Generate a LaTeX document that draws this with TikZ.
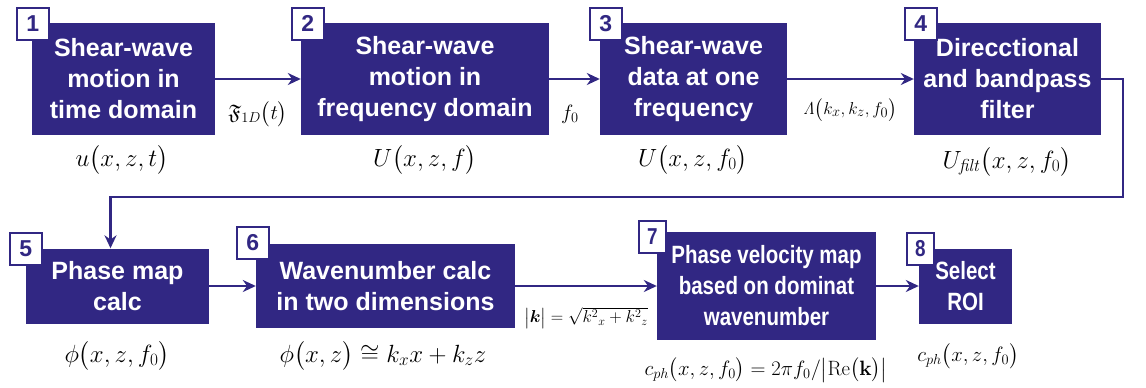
\documentclass[tikz,border=0pt]{standalone}
\usepackage{amsmath,amssymb}
\usepackage[no-math]{fontspec}
\setmainfont{Liberation Sans}
\newfontfamily\narrowsf[FakeStretch=0.82]{Liberation Sans}
\usetikzlibrary{arrows.meta}
\definecolor{flowblue}{HTML}{312783}

\begin{document}
\begin{tikzpicture}[x=1pt, y=-1pt,
  >={Stealth[length=13pt, width=12pt]},
  stepbox/.style={fill=flowblue, text=white, align=center, inner sep=0pt,
    font=\fontsize{25}{31}\selectfont\bfseries},
  badge/.style={draw=flowblue, fill=white, text=flowblue, line width=1.6pt,
    minimum width=32pt, minimum height=32pt, inner sep=0pt, anchor=north west,
    font=\fontsize{23}{23}\selectfont\bfseries},
  eqlabel/.style={inner sep=1pt, font=\fontsize{24}{28}\selectfont},
  flow/.style={draw=flowblue, line width=2.2pt, ->}]

\useasboundingbox (0,0) rectangle (1146,388);

% --- Top row ---
\node[stepbox, minimum width=183pt, minimum height=112pt] (b1) at (123.5,79)
  {Shear-wave\\motion in\\time domain};
\node[stepbox, minimum width=248pt, minimum height=112pt] (b2) at (425,79)
  {Shear-wave\\motion in\\frequency domain};
\node[stepbox, minimum width=187pt, minimum height=112pt] (b3) at (693.5,79)
  {Shear-wave\\data at one\\frequency};
\node[stepbox, minimum width=187pt, minimum height=112pt] (b4) at (1007.5,79)
  {Direcctional\\and bandpass\\filter};

% --- Bottom row ---
\node[stepbox, minimum width=183pt, minimum height=75pt] (b5) at (117.5,286)
  {Phase map\\calc};
\node[stepbox, minimum width=259pt, minimum height=84pt] (b6) at (385.5,286)
  {Wavenumber calc\\in two dimensions};
\node[stepbox, minimum width=219pt, minimum height=108pt] (b7) at (766.5,286)
  {\narrowsf\bfseries Phase velocity map\\\narrowsf\bfseries based on dominat\\\narrowsf\bfseries wavenumber};
\node[stepbox, minimum width=93pt, minimum height=75pt] (b8) at (965.5,286)
  {\narrowsf\bfseries Select\\\narrowsf\bfseries ROI};

% --- Step numbers ---
\node[badge] (n1) at (16,7) {1};
\node[badge] (n2) at (291,7) {2};
\node[badge] (n3) at (589,7) {3};
\node[badge] (n4) at (904,7) {4};
\node[badge] (n5) at (9,232) {5};
\node[badge] (n6) at (236,226) {6};
\node[badge, minimum width=27pt] (n7) at (638,220) {\narrowsf\bfseries 7};
\node[badge, minimum width=27pt] (n8) at (906,232) {\narrowsf\bfseries 8};

% --- Connectors ---
\draw[flow] (b1) -- (b2);
\draw[flow] (b2) -- (b3);
\draw[flow] (b3) -- (b4);
\coordinate (loopR) at (1123,197);
\draw[flow] (b4.east) -| (loopR) -| ([xshift=-7pt]b5.north);
\draw[flow] (b5) -- (b6);
\draw[flow] (b6) -- (b7);
\draw[flow] (b7) -- (b8);

% --- Connector labels ---
\node[inner sep=1pt, font=\fontsize{21}{24}\selectfont] (l12) at (258,114)
  {$\mathfrak{F}_{1D}\bigl(t\bigr)$};
\node[inner sep=1pt, font=\fontsize{21}{24}\selectfont] (l23) at (570,114) {$f_0$};
\node[inner sep=1pt, font=\fontsize{19}{22}\selectfont] (l34) at (850,110)
  {$\mathit{\Lambda}\bigl(k_x,k_z,f_0\bigr)$};
\node[inner sep=1pt, font=\fontsize{17}{20}\selectfont] (l67) at (586,318)
  {$\bigl|\boldsymbol{k}\bigr|=\sqrt{k^2{}_x+k^2{}_z}$};

% --- Quantities under the steps ---
\node[eqlabel] (q1) at (122,160) {$u\bigl(x,z,t\bigr)$};
\node[eqlabel] (q2) at (425,160) {$U\bigl(x,z,f\bigr)$};
\node[eqlabel] (q3) at (693,160) {$U\bigl(x,z,f_0\bigr)$};
\node[eqlabel] (q4) at (1007,162) {$U_{\mathit{filt}}\bigl(x,z,f_0\bigr)$};
\node[eqlabel] (q5) at (117,356) {$\phi\bigl(x,z,f_0\bigr)$};
\node[eqlabel] (q6) at (383,356) {$\phi\bigl(x,z\bigr)\cong k_x x+k_z z$};
\node[eqlabel, font=\fontsize{20}{24}\selectfont] (q7) at (766,370)
  {$c_{ph}\bigl(x,z,f_0\bigr)=2\pi f_0/\bigl|\mathrm{Re}\bigl(\mathbf{k}\bigr)\bigr|$};
\node[eqlabel, font=\fontsize{21}{25}\selectfont] (q8) at (968,356)
  {$c_{ph}\bigl(x,z,f_0\bigr)$};

\end{tikzpicture}
\end{document}
